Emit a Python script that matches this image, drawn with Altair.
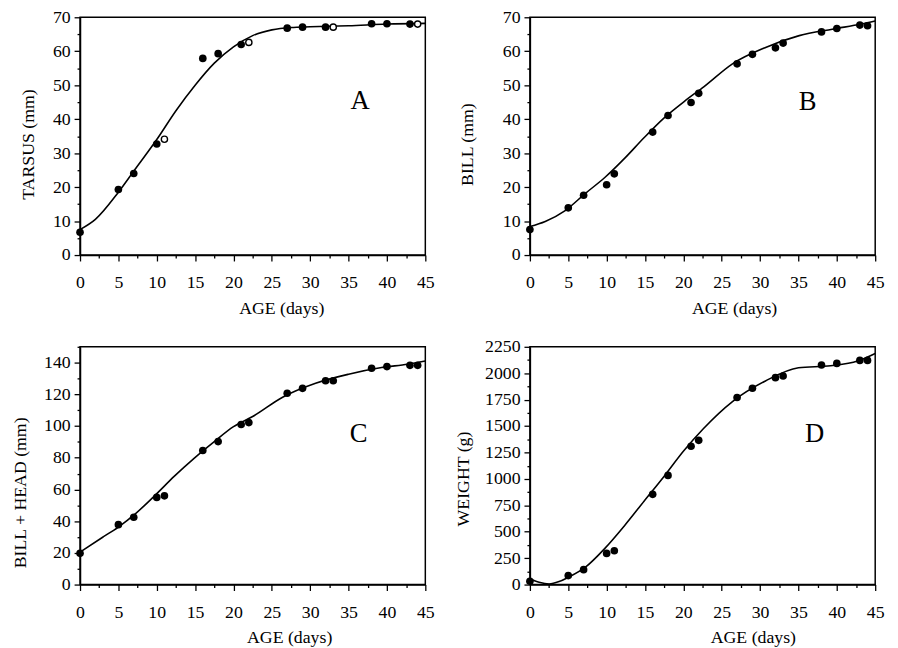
import altair as alt
import pandas as pd

# ---------------- data ----------------
age = [0, 5, 7, 10, 11, 16, 18, 21, 22, 27, 29, 32, 33, 38, 40, 43, 44]

# Panel A (tarsus): filled = measured, open = second series
tarsus_age_filled = [0, 5, 7, 10, 16, 18, 21, 27, 29, 32, 38, 40, 43]
tarsus_filled = [6.7, 19.3, 24.0, 32.7, 57.9, 59.3, 62.0, 66.8, 67.1, 67.1, 68.1, 68.1, 68.0]
tarsus_age_open = [11, 22, 33, 44]
tarsus_open = [34.1, 62.6, 67.1, 68.0]
tarsus_curve_x = [0, 2, 5, 7, 10, 12.5, 15, 17.5, 20, 22.5, 25, 27.5, 30, 35, 40, 45]
tarsus_curve_y = [7.5, 10.5, 18.5, 24.7, 34.0, 42.5, 50.0, 56.5, 61.3, 64.6, 66.3, 67.0, 67.2, 67.5, 68.0, 68.2]

# Panel B (bill)
bill = [7.5, 13.9, 17.6, 20.7, 23.9, 36.2, 41.1, 44.9, 47.6, 56.3, 59.1, 61.0, 62.4, 65.7, 66.7, 67.7, 67.5]
bill_curve_x = [0, 2, 4.6, 7.2, 9.8, 12.4, 14.9, 17.5, 20.1, 22.7, 26.4, 30.8, 35.1, 39.4, 43.2, 45]
bill_curve_y = [8.4, 9.9, 13.1, 18.1, 22.9, 28.6, 34.6, 40.4, 45.2, 49.6, 56.3, 61.2, 64.6, 66.5, 68.0, 68.9]

# Panel C (bill + head)
bill_head = [19.7, 37.8, 42.5, 55.0, 56.0, 84.6, 90.2, 101.0, 102.2, 120.7, 123.8, 128.6, 128.6, 136.5, 137.5, 138.3, 138.3]
bh_curve_x = [0, 2.9, 5, 7.2, 9.8, 12.3, 14.9, 17.5, 20, 22.5, 26.4, 30.7, 35, 39.3, 42.7, 45]
bh_curve_y = [20.5, 29.7, 36.3, 44.6, 56.4, 68.4, 79.8, 90.2, 99.6, 106.0, 118.2, 127.0, 132.7, 136.9, 139.0, 141.0]

# Panel D (weight)
weight = [31, 85, 141, 295, 320, 854, 1033, 1309, 1365, 1770, 1858, 1958, 1974, 2078, 2093, 2121, 2121]
w_curve_x = [0, 1.2, 2.5, 3.8, 5, 7.2, 9.8, 12.3, 14.9, 17.5, 20, 22.6, 26.4, 30.7, 35, 39.2, 42.7, 45]
w_curve_y = [53, 22, 6, 28, 69, 163, 345, 555, 791, 1026, 1262, 1475, 1732, 1927, 2052, 2071, 2115, 2187]

panel_letters = ["A", "B", "C", "D"]
letter_x = [36.5, 36.2, 36.3, 37.1]
letter_y = [45.3, 45.0, 95.0, 1422.0]

FONT = "Liberation Serif"
W, H = 350, 241


def panel(idx, pts_x, pts_y, cx, cy, ytitle, ydomain, ytick_step, ylabel_step,
          title_pad, xtitle_shift, ytitle_shift, open_x=None, open_y=None):
    n_y = int(round((ydomain[1] - ydomain[0]) / ytick_step))
    yvals = [ydomain[0] + i * ytick_step for i in range(n_y + 1)]
    xvals = [i * 2.5 for i in range(19)]
    ymax_label = ydomain[1] - (ydomain[1] % ylabel_step)

    def xenc():
        return alt.X(
            "x:Q",
            scale=alt.Scale(domain=[0, 45], nice=False, zero=False),
            axis=alt.Axis(
                title="AGE (days)", values=xvals, format="d",
                labelOverlap=False, labelFlush=False,
                labelExpr="datum.value % 5 === 0 ? datum.label : ''",
                tickSize={"condition": {"test": "datum.value % 5 === 0", "value": 6}, "value": 3},
                labelPadding=13, titlePadding=8, titleX=W / 2 + xtitle_shift,
            ),
        )

    def yenc():
        return alt.Y(
            "y:Q",
            scale=alt.Scale(domain=ydomain, nice=False, zero=False),
            axis=alt.Axis(
                title=ytitle, values=yvals, format="d",
                labelOverlap=False, labelFlush=False,
                labelExpr=f"(datum.value % {ylabel_step} === 0 && datum.value <= {ymax_label}) ? datum.label : ''",
                tickSize={"condition": {"test": f"datum.value % {ylabel_step} === 0", "value": 6}, "value": 3},
                labelPadding=4, titlePadding=title_pad, titleY=H / 2 + ytitle_shift,
            ),
        )

    curve_df = pd.DataFrame({"x": cx, "y": cy})
    pts_df = pd.DataFrame({"x": pts_x, "y": pts_y})
    curve = alt.Chart(curve_df).mark_line(
        color="black", strokeWidth=1.6, interpolate="monotone", clip=True
    ).encode(x=xenc(), y=yenc())
    pts = alt.Chart(pts_df).mark_circle(color="black", opacity=1, size=60).encode(
        x=xenc(), y=yenc()
    )
    layers = [curve, pts]
    if open_x is not None:
        open_df = pd.DataFrame({"x": open_x, "y": open_y})
        layers.append(
            alt.Chart(open_df).mark_point(
                shape="circle", filled=True, fill="white", stroke="black",
                strokeWidth=1.4, size=40, opacity=1
            ).encode(x=xenc(), y=yenc())
        )
    lab_df = pd.DataFrame({"t": [panel_letters[idx]], "x": [letter_x[idx]], "y": [letter_y[idx]]})
    layers.append(
        alt.Chart(lab_df).mark_text(
            font=FONT, fontSize=27, color="black", baseline="middle", align="center"
        ).encode(x=xenc(), y=yenc(), text="t:N")
    )
    return alt.layer(*layers).properties(width=W, height=H)


pA = panel(0, tarsus_age_filled, tarsus_filled, tarsus_curve_x, tarsus_curve_y,
           "TARSUS (mm)", [0, 70], 5, 10, 15, 29, 8, tarsus_age_open, tarsus_open)
pB = panel(1, age, bill, bill_curve_x, bill_curve_y, "BILL (mm)", [0, 70], 5, 10, 26, 32, 8)
pC = panel(2, age, bill_head, bh_curve_x, bh_curve_y, "BILL + HEAD (mm)", [0, 150], 10, 20, 14, 37, 27)
pD = panel(3, age, weight, w_curve_x, w_curve_y, "WEIGHT (g)", [0, 2250], 125, 250, 12, 51, 13)

chart = alt.concat(pA, pB, pC, pD, columns=2, spacing={"row": 19, "column": 19}).properties(
    padding={"left": 3, "top": -5, "right": 5, "bottom": 5},
    background="white",
).configure_view(
    stroke="black", strokeWidth=1.5
).configure_axis(
    domainColor="black", domainWidth=1.5, tickColor="black", tickWidth=1.3,
    labelFont=FONT, labelFontSize=18, labelColor="black",
    titleFont=FONT, titleFontSize=18, titleColor="black", titleFontWeight="normal",
    grid=False, labelOverlap=False,
)

chart.save("out.html", embed_options={"renderer": "svg", "actions": False})
